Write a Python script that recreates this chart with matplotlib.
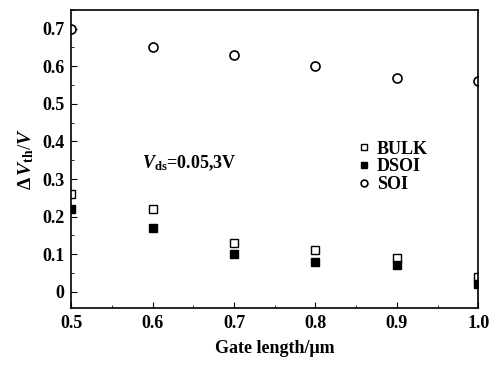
import numpy as np
import matplotlib
matplotlib.use("Agg")
import matplotlib.pyplot as plt
from matplotlib.ticker import MultipleLocator

# Données
gate_length = [0.5, 0.6, 0.7, 0.8, 0.9, 1.0]
bulk = [0.26, 0.22, 0.13, 0.11, 0.09, 0.04]
dsoi = [0.22, 0.17, 0.10, 0.08, 0.07, 0.02]
soi  = [0.70, 0.65, 0.63, 0.60, 0.57, 0.56]

plt.rcParams['font.family'] = 'Liberation Serif'
plt.rcParams['font.weight'] = 'bold'
plt.rcParams['mathtext.fontset'] = 'custom'
plt.rcParams['mathtext.rm'] = 'Liberation Serif:bold'
plt.rcParams['mathtext.it'] = 'Liberation Serif:italic:bold'

fig = plt.figure(figsize=(4.91, 3.67), dpi=100)
ax = fig.add_axes([0.145, 0.161, 0.829, 0.812])

ax.plot(gate_length, bulk, 's', ms=5.5, mfc='white', mec='black', mew=1.0, label='BULK')
ax.plot(gate_length, dsoi, 's', ms=5.5, mfc='black', mec='black', label='DSOI')
ax.plot(gate_length, soi, 'o', ms=6.5, mfc='white', mec='black', mew=1.2, label='SOI')

ax.set_xlim(0.5, 1.0)
ax.set_ylim(-0.043, 0.75)
ax.xaxis.set_minor_locator(MultipleLocator(0.05))
ax.yaxis.set_minor_locator(MultipleLocator(0.05))
ax.set_xticks([0.5, 0.6, 0.7, 0.8, 0.9, 1.0])
ax.set_xticklabels(['0.5', '0.6', '0.7', '0.8', '0.9', '1.0'])
ax.set_yticks([0, 0.1, 0.2, 0.3, 0.4, 0.5, 0.6, 0.7])
ax.set_yticklabels(['0', '0.1', '0.2', '0.3', '0.4', '0.5', '0.6', '0.7'])
ax.tick_params(which='both', direction='in', labelsize=13)
ax.tick_params(which='major', length=4, pad=5)
ax.tick_params(which='minor', length=2)
for s in ax.spines.values():
    s.set_linewidth(1.2)

ax.set_xlabel('Gate length/μm', fontsize=13, fontweight='bold', labelpad=6)
ax.set_ylabel(r'$\Delta\,V_{\rm th}$/$V$', fontsize=14, labelpad=4)

ax.text(0.645, 0.343, r'$V_{\rm ds}$=0.05,3V', fontsize=13, ha='center', va='center')

ax.legend(loc='center left', bbox_to_anchor=(0.675, 0.473), frameon=False,
          fontsize=13, handletextpad=0.2, labelspacing=0.05, handlelength=1.0,
          borderpad=0.0, markerscale=0.75)

plt.savefig("out.png", dpi=100)
